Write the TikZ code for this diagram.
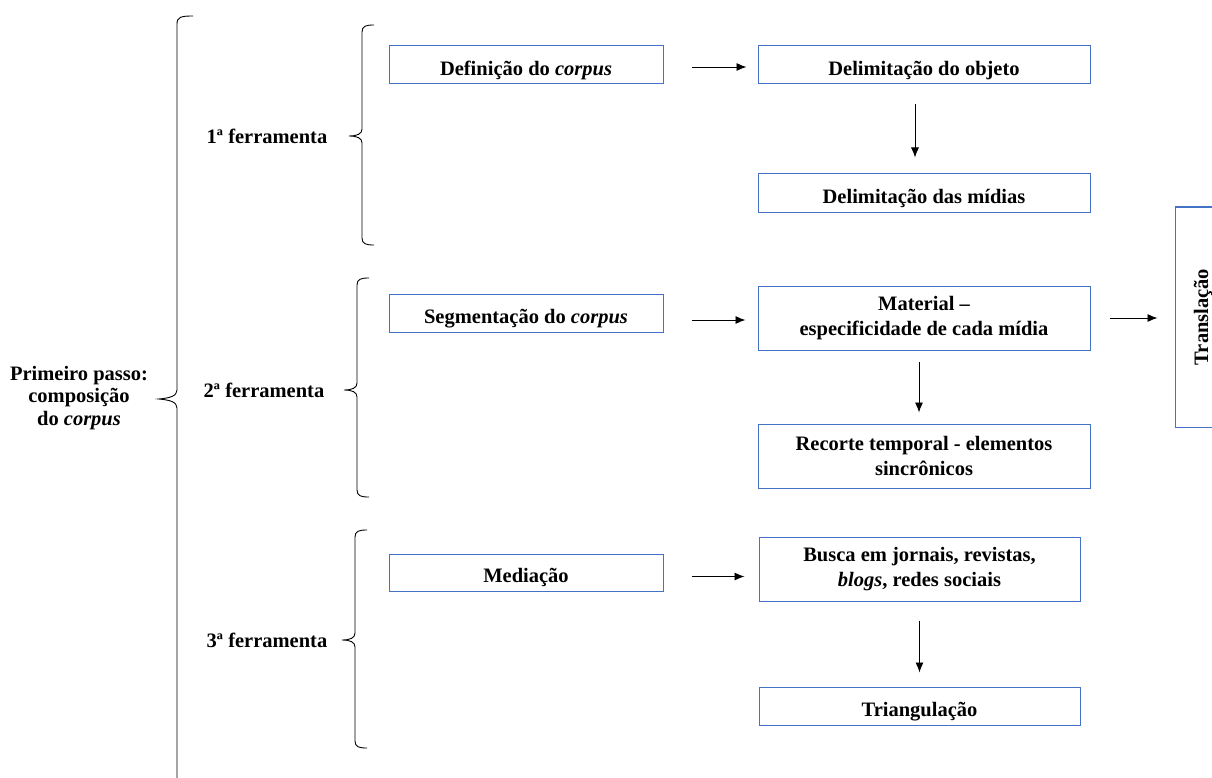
\documentclass[tikz,border=0pt]{standalone}
\usepackage{fontspec}
\setmainfont{Liberation Serif}
\usetikzlibrary{arrows.meta}
\definecolor{boxblue}{HTML}{4472C4}
\tikzset{
  box/.style={draw=boxblue, line width=1pt, align=center, inner sep=0pt,
    font=\fontsize{20.5}{25}\selectfont\bfseries,
    execute at begin node={\rule{0pt}{25pt}}},
  lbl/.style={align=center, inner sep=0pt, font=\fontsize{20.5}{22.5}\selectfont\bfseries},
  arr/.style={draw=black, line width=0.9pt, -{Latex[length=10pt,width=8pt]}},
  brace/.style={draw=black, line width=0.9pt}
}
\begin{document}
\begin{tikzpicture}[x=1pt,y=-1pt]
\useasboundingbox (0,0) rectangle (1212,778);
\clip (0,0) rectangle (1212,778);
% boxes
\node[box, minimum width=274pt, minimum height=38pt] (b1) at (526,65) {Definição do \textit{corpus}};
\node[box, minimum width=332pt, minimum height=38pt] (b2) at (924,65) {Delimitação do objeto};
\node[box, minimum width=332pt, minimum height=38pt] (b3) at (924,193) {Delimitação das mídias};
\node[box, minimum width=274pt, minimum height=38pt] (b4) at (526,313) {Segmentação do \textit{corpus}};
\node[box, minimum width=332pt, minimum height=64pt] (b5) at (924,318) {Material --\\especificidade de cada mídia};
\node[box, minimum width=332pt, minimum height=64pt] (b6) at (924,456) {Recorte temporal - elementos\\sincrônicos};
\node[box, minimum width=274pt, minimum height=37pt] (b7) at (526,572.5) {Mediação};
\node[box, minimum width=321pt, minimum height=64pt] (b8) at (919.5,569) {Busca em jornais, revistas,\\\textit{blogs}, redes sociais};
\node[box, minimum width=321pt, minimum height=38pt] (b9) at (919.5,706) {Triangulação};
\node[draw=boxblue, line width=1pt, minimum width=60pt, minimum height=220pt, inner sep=0pt] (tr) at (1205,317) {};
\node[lbl, rotate=90] (trt) at (1203,317) {Translação};
% arrows
\draw[arr, shorten <=28pt, shorten >=11pt] ([yshift=-2pt]b1.east) -- ([yshift=-2pt]b2.west);
\draw[arr, shorten <=20pt, shorten >=16pt] ([xshift=-9pt]b2.south) -- ([xshift=-9pt]b3.north);
\draw[arr, shorten <=28pt, shorten >=12pt] ([yshift=-2pt]b4.east |- b5.west) -- ([yshift=-2pt]b5.west);
\draw[arr, shorten <=11pt, shorten >=11pt] ([xshift=-5pt]b5.south) -- ([xshift=-5pt]b6.north);
\draw[arr, shorten <=19pt, shorten >=17pt] (b5.east) -- (tr.west |- b5.east);
\draw[arr, shorten <=28pt, shorten >=14pt] ([yshift=-4pt]b7.east) -- ([yshift=-4pt]b7.east -| b8.west);
\draw[arr, shorten <=19pt, shorten >=14pt] (b8.south) -- (b9.north);
% labels
\node[lbl] (main) at (79,398) {Primeiro passo:\\composição\\do \textit{corpus}};
\node[lbl] (f1) at (267,136) {1ª ferramenta};
\node[lbl] (f2) at (264,390) {2ª ferramenta};
\node[lbl] (f3) at (267,640) {3ª ferramenta};
% braces
\draw[brace] (193,16) .. controls (181,16) and (177,17) .. (177,24) -- (177,390)
  .. controls (177,396) and (170,398) .. (159,399) .. controls (170,400) and (177,402) .. (177,408) -- (177,790);
\draw[brace] (374,25) .. controls (366,25) and (362,26) .. (362,32) -- (362,129)
  .. controls (362,134) and (357,136) .. (349,136) .. controls (357,136) and (362,138) .. (362,143) -- (362,238)
  .. controls (362,244) and (366,245) .. (374,245);
\draw[brace] (369,278) .. controls (361,278) and (357,279) .. (357,285) -- (357,383)
  .. controls (357,388) and (352,390) .. (344,390) .. controls (352,390) and (357,392) .. (357,397) -- (357,490)
  .. controls (357,496) and (361,497) .. (369,497);
\draw[brace] (367,530) .. controls (359,530) and (355,531) .. (355,537) -- (355,633)
  .. controls (355,638) and (350,640) .. (342,640) .. controls (350,640) and (355,642) .. (355,647) -- (355,741)
  .. controls (355,747) and (359,748) .. (367,748);
\end{tikzpicture}
\end{document}
